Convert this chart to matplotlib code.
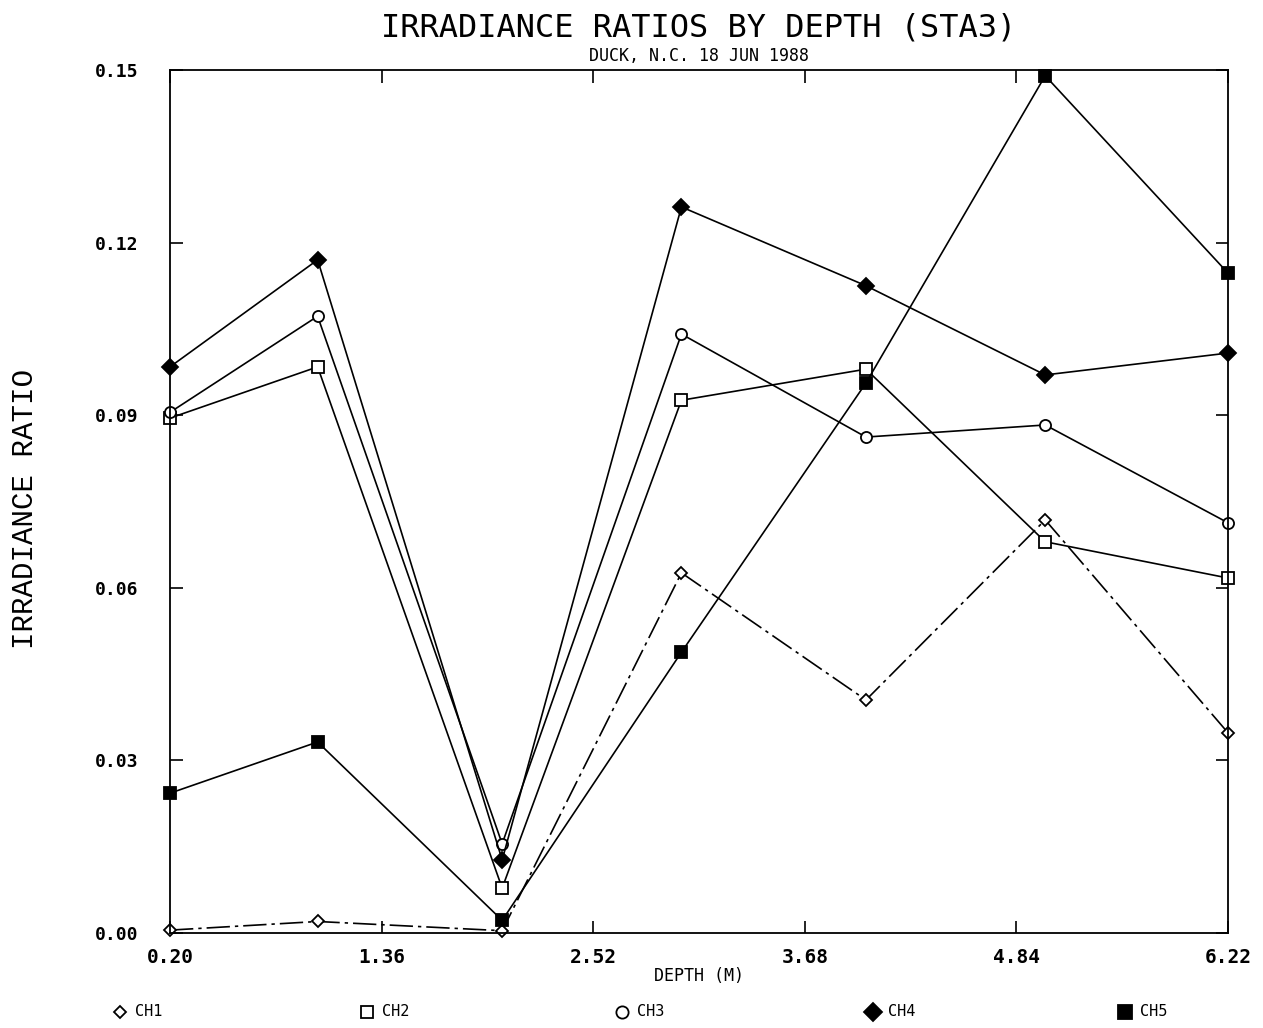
import matplotlib

matplotlib.use("Agg")
import matplotlib.pyplot as plt
from matplotlib.lines import Line2D

# depth (m) of each sample and the ratio per channel
depth = [0.20, 1.04, 2.09, 3.11, 4.16, 5.18, 6.22]
ch1 = [0.0005, 0.0020, 0.0004, 0.0626, 0.0405, 0.0718, 0.0348]
ch2 = [0.0895, 0.0984, 0.0078, 0.0926, 0.0980, 0.0680, 0.0617]
ch3 = [0.0905, 0.1072, 0.0155, 0.1041, 0.0862, 0.0883, 0.0713]
ch4 = [0.0984, 0.1170, 0.0127, 0.1262, 0.1125, 0.0970, 0.1008]
ch5 = [0.0243, 0.0332, 0.0022, 0.0488, 0.0956, 0.1490, 0.1147]

channels = ["CH1", "CH2", "CH3", "CH4", "CH5"]
series = [ch1, ch2, ch3, ch4, ch5]

xtick_labels = ["0.20", "1.36", "2.52", "3.68", "4.84", "6.22"]
ytick_values = [0.00, 0.03, 0.06, 0.09, 0.12, 0.15]
ytick_labels = ["0.00", "0.03", "0.06", "0.09", "0.12", "0.15"]

styles = [
    dict(marker="D", mfc="white", ms=6, ls=(0, (14, 3, 2, 3))),
    dict(marker="s", mfc="white", ms=8, ls="-"),
    dict(marker="o", mfc="white", ms=8, ls="-"),
    dict(marker="D", mfc="black", ms=8, ls="-"),
    dict(marker="s", mfc="black", ms=9, ls="-"),
]

mono = "DejaVu Sans Mono"

fig = plt.figure(figsize=(12.63, 10.28), dpi=100)
ax = fig.add_axes([170 / 1263, 1 - 933 / 1028, 1058 / 1263, 863 / 1028])

for vals, st in zip(series, styles):
    ax.plot(depth, vals, color="black", lw=1.2, mec="black", mew=1.3,
            clip_on=False, **st)

ax.set_xlim(0.20, 6.22)
ax.set_ylim(0.0, 0.15)

xticks = [0.20 + i * (6.22 - 0.20) / 5 for i in range(6)]
ax.set_xticks(xticks)
ax.set_xticklabels(xtick_labels, fontfamily=mono, fontsize=14, fontweight="bold")
ax.set_yticks(ytick_values)
ax.set_yticklabels(ytick_labels, fontfamily=mono, fontsize=13, fontweight="bold")
ax.tick_params(direction="in", length=9, width=1.2, top=True, right=True,
               color="black")
ax.tick_params(axis="x", pad=11)
ax.tick_params(axis="y", pad=23)

for sp in ax.spines.values():
    sp.set_linewidth(1.3)

ax.set_xlabel("DEPTH (M)", fontfamily=mono, fontsize=12, labelpad=0)
fig.text(0.020, 0.505, "IRRADIANCE RATIO", rotation=90, ha="center", va="center",
         fontfamily="Liberation Mono", fontsize=21)

fig.text(699 / 1263, 1 - 28 / 1028, "IRRADIANCE RATIOS BY DEPTH (STA3)",
         ha="center", va="center", fontfamily=mono, fontsize=23)
fig.text(699 / 1263, 1 - 56 / 1028, "DUCK, N.C. 18 JUN 1988",
         ha="center", va="center", fontfamily=mono, fontsize=12)

# legend row along the bottom edge
legend_x = [120, 367, 622, 873, 1125]
ly = 1 - 1012 / 1028
for name, st, lx in zip(channels, styles, legend_x):
    fig.add_artist(Line2D([lx / 1263], [ly], transform=fig.transFigure,
                          marker=st["marker"], mfc=st["mfc"], mec="black",
                          mew=1.3, ms=st["ms"] * 1.1, ls="none"))
    fig.text((lx + 15) / 1263, ly, name, ha="left", va="center",
             fontfamily=mono, fontsize=11)

fig.savefig("out.png", dpi=100)
